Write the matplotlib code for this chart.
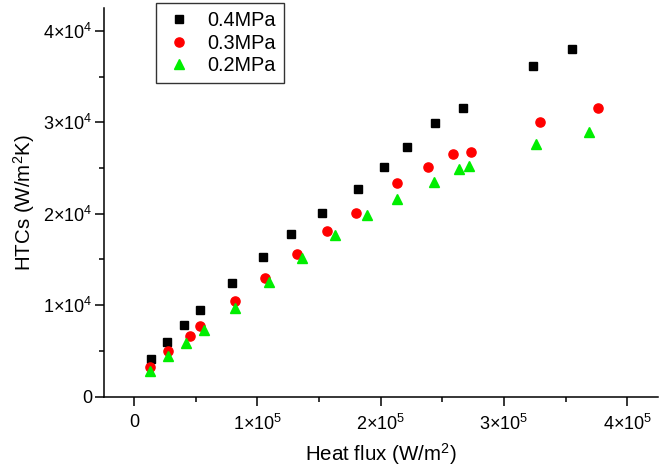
import numpy as np
import matplotlib.pyplot as plt
from matplotlib.ticker import FixedLocator, FuncFormatter

plt.rcParams['font.family'] = ['Liberation Sans', 'DejaVu Sans']
plt.rcParams['mathtext.fontset'] = 'custom'
plt.rcParams['mathtext.rm'] = 'Liberation Sans'
plt.rcParams['mathtext.it'] = 'Liberation Sans:italic'
plt.rcParams['mathtext.default'] = 'regular'

# ======================================================
# Data
# ======================================================
q_04 = [13600, 27000, 40300, 53300, 79300, 104500, 126900, 152400, 181300,
        202900, 221600, 244300, 267000, 323300, 355500]
h_04 = [4100, 6015, 7850, 9460, 12440, 15290, 17740, 20100, 22690,
        25100, 27250, 29875, 31515, 36170, 37970]

q_03 = [13000, 27400, 45500, 53600, 82000, 105800, 131900, 156800, 179600,
        213200, 238100, 258700, 273000, 329000, 376100]
h_03 = [3226, 4975, 6650, 7710, 10475, 13010, 15560, 18075, 20100,
        23345, 25100, 26485, 26700, 29985, 31550]

q_02 = [13000, 27800, 42200, 56800, 82000, 109600, 136400, 162900, 188900,
        213200, 243300, 263600, 271900, 326300, 368800]
h_02 = [2790, 4460, 5880, 7270, 9645, 12550, 15180, 17630, 19850,
        21560, 23490, 24845, 25205, 27580, 28960]

labels = ["0.4MPa", "0.3MPa", "0.2MPa"]


def sci_fmt(v, pos):
    if v == 0:
        return "0"
    e = int(np.floor(np.log10(abs(v)) + 1e-9))
    m = v / 10 ** e
    return "%d\u00d710$^{%d}$" % (round(m), e)


fig = plt.figure(figsize=(6.69, 4.66), dpi=100)
ax = fig.add_axes([104 / 669, 1 - 396.5 / 466, (658 - 104) / 669, (396.5 - 8) / 466])

ax.plot(q_04, h_04, 's', color='black', markersize=5.6, label=labels[0])
ax.plot(q_03, h_03, 'o', color='red', markersize=6.6, label=labels[1])
ax.plot(q_02, h_02, '^', color='#00ee00', markersize=7.2, label=labels[2])

ax.set_xlim(-24500, 425000)
ax.set_ylim(0, 42500)

ax.xaxis.set_major_locator(FixedLocator([0, 1e5, 2e5, 3e5, 4e5]))
ax.xaxis.set_minor_locator(FixedLocator([5e4, 1.5e5, 2.5e5, 3.5e5]))
ax.yaxis.set_major_locator(FixedLocator([0, 1e4, 2e4, 3e4, 4e4]))
ax.yaxis.set_minor_locator(FixedLocator([5e3, 1.5e4, 2.5e4, 3.5e4]))
ax.xaxis.set_major_formatter(FuncFormatter(sci_fmt))
ax.yaxis.set_major_formatter(FuncFormatter(sci_fmt))

for s in ['top', 'right']:
    ax.spines[s].set_visible(False)
for s in ['left', 'bottom']:
    ax.spines[s].set_linewidth(1.1)

ax.tick_params(which='major', direction='out', length=6.5, width=1.1, labelsize=13, pad=2)
ax.tick_params(axis='x', which='major', pad=6)
ax.tick_params(which='minor', direction='out', length=3.5, width=1.1)

ax.set_xlabel("Heat flux (W/m$^2$)", fontsize=14.8, labelpad=5)
ax.set_ylabel("HTCs (W/m$^2$K)", fontsize=14.8, labelpad=4)

leg = ax.legend(loc='upper left', bbox_to_anchor=(155.7 / 669, 1 - 3.3 / 466),
                bbox_transform=fig.transFigure, borderaxespad=0, fontsize=14.3,
                frameon=True, fancybox=False, handlelength=1.5, handletextpad=0.7,
                labelspacing=0.18, borderpad=0.4, numpoints=1)
leg.get_frame().set_edgecolor('black')
leg.get_frame().set_linewidth(1.0)

fig.savefig("out.png", dpi=100)
